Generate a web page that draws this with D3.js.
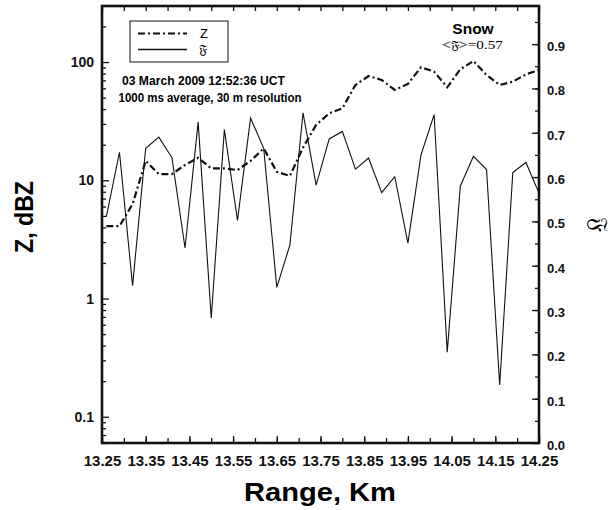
<!DOCTYPE html>
<html>
<head>
<meta charset="UTF-8">
<style>
  body { margin: 0; background: #fff; font-family: "Liberation Sans", Arial, sans-serif; }
  .tick text { font-weight: bold; fill: #111; }
  .frak { font-family: "DejaVu Serif", "DejaVu Sans", serif; }
</style>
</head>
<body>
<svg width="612" height="510"></svg>
<script src="https://d3js.org/d3.v7.min.js"></script>
<script>
// range gates, km (30 m step)
let rangeKm = [13.26, 13.29, 13.32, 13.35, 13.38, 13.41, 13.44, 13.47, 13.50, 13.53,
               13.56, 13.59, 13.62, 13.65, 13.68, 13.71, 13.74, 13.77, 13.80, 13.83,
               13.86, 13.89, 13.92, 13.95, 13.98, 14.01, 14.04, 14.07, 14.10, 14.13,
               14.16, 14.19, 14.22, 14.25];
// reflectivity Z (log axis, left)
let zValues = [4.1, 4.1, 6.3, 14.6, 11.3, 11.3, 13.5, 15.5, 12.6, 12.6,
               12.2, 14.6, 18.6, 11.8, 10.9, 18.9, 29.4, 36.9, 40.6, 64,
               76.2, 70.6, 58.1, 65.3, 90.3, 83, 61.2, 86.9, 102, 77.8,
               64, 68.2, 78.8, 85.7];
// F (linear axis, right)
let fValues = [0.511, 0.656, 0.355, 0.665, 0.690, 0.644, 0.440, 0.724, 0.282, 0.707,
               0.502, 0.733, 0.665, 0.351, 0.447, 0.745, 0.582, 0.686, 0.703, 0.618,
               0.643, 0.565, 0.601, 0.451, 0.650, 0.741, 0.205, 0.580, 0.647, 0.617,
               0.131, 0.610, 0.633, 0.564];

let xTickLabels = [13.25, 13.35, 13.45, 13.55, 13.65, 13.75, 13.85, 13.95, 14.05, 14.15, 14.25];
let zTickLabels = [0.1, 1, 10, 100];
let fTickLabels = [0, 0.1, 0.2, 0.3, 0.4, 0.5, 0.6, 0.7, 0.8, 0.9];

let mLeft = 102, mRight = 539, mTop = 6, mBottom = 443;

let svg = d3.select("svg");

let x = d3.scaleLinear().domain([13.25, 14.25]).range([mLeft, mRight]);
let yZ = d3.scaleLog().domain([0.06, 298]).range([mBottom, mTop]);
let yF = d3.scaleLinear().domain([0, 0.986]).range([mBottom, mTop]);

// minor ticks
let xMinor = [];
for (let i = 0; i <= 20; i++) xMinor.push(13.25 + i * 0.05);
let zMinor = [];
[0.01, 0.1, 1, 10, 100].forEach(dec => {
  for (let m = 2; m <= 9; m++) {
    let v = dec * m;
    if (v >= 0.06 && v <= 298) zMinor.push(v);
  }
});
let fMinor = [];
for (let i = 0; i <= 19; i++) fMinor.push(i * 0.05);

function style(g) {
  g.select(".domain").remove();
  g.selectAll(".tick line").attr("stroke", "#111").attr("stroke-width", 1.3);
}

// bottom axis
svg.append("g").attr("transform", `translate(0,${mBottom})`)
  .call(d3.axisBottom(x).tickValues(xMinor).tickFormat("").tickSize(-5))
  .call(style);
svg.append("g").attr("transform", `translate(0,${mBottom})`)
  .call(d3.axisBottom(x).tickValues(xTickLabels).tickFormat(d3.format(".2f")).tickSize(-7).tickPadding(12))
  .call(style)
  .selectAll("text").style("font-size", "15px");
// top axis
svg.append("g").attr("transform", `translate(0,${mTop})`)
  .call(d3.axisTop(x).tickValues(xMinor).tickFormat("").tickSize(-5))
  .call(style);

// left axis (log)
svg.append("g").attr("transform", `translate(${mLeft},0)`)
  .call(d3.axisLeft(yZ).tickValues(zMinor).tickFormat("").tickSize(-4))
  .call(style);
svg.append("g").attr("transform", `translate(${mLeft},0)`)
  .call(d3.axisLeft(yZ).tickValues(zTickLabels).tickFormat(d => d).tickSize(-7).tickPadding(8))
  .call(style)
  .selectAll("text").style("font-size", "14px");

// right axis
svg.append("g").attr("transform", `translate(${mRight},0)`)
  .call(d3.axisRight(yF).tickValues(fMinor).tickFormat("").tickSize(-4))
  .call(style);
svg.append("g").attr("transform", `translate(${mRight},0)`)
  .call(d3.axisRight(yF).tickValues(fTickLabels).tickFormat(d3.format(".1f")).tickSize(-7).tickPadding(8))
  .call(style)
  .selectAll("text").style("font-size", "13px").attr("dy", "0.5em");

// data lines
svg.append("defs").append("clipPath").attr("id", "plot")
  .append("rect").attr("x", mLeft).attr("y", mTop).attr("width", mRight - mLeft).attr("height", mBottom - mTop);

let fLine = d3.line().x((d, i) => x(rangeKm[i])).y(d => yF(d));
let zLine = d3.line().x((d, i) => x(rangeKm[i])).y(d => yZ(d));

svg.append("path").datum(fValues)
  .attr("clip-path", "url(#plot)")
  .attr("d", fLine).attr("fill", "none").attr("stroke", "#111").attr("stroke-width", 1.1);

svg.append("path").datum(zValues)
  .attr("clip-path", "url(#plot)")
  .attr("d", zLine).attr("fill", "none").attr("stroke", "#111").attr("stroke-width", 2.2)
  .attr("stroke-dasharray", "7,3,2,3");

// frame
svg.append("rect").attr("x", mLeft).attr("y", mTop).attr("width", mRight - mLeft).attr("height", mBottom - mTop)
  .attr("fill", "none").attr("stroke", "#111").attr("stroke-width", 2.6);

// legend
let lg = svg.append("g");
lg.append("rect").attr("x", 130).attr("y", 21).attr("width", 98).attr("height", 41)
  .attr("fill", "#fff").attr("stroke", "#111").attr("stroke-width", 1);
lg.append("line").attr("x1", 138).attr("x2", 187).attr("y1", 33.5).attr("y2", 33.5)
  .attr("stroke", "#111").attr("stroke-width", 2).attr("stroke-dasharray", "7,3,2,3");
lg.append("line").attr("x1", 138).attr("x2", 187).attr("y1", 49.5).attr("y2", 49.5)
  .attr("stroke", "#111").attr("stroke-width", 1.6);
lg.append("text").attr("x", 200).attr("y", 38).text("Z").style("font-size", "13px");
lg.append("text").attr("class", "frak").attr("x", 199).attr("y", 54).text("𝔉").style("font-size", "13px");

// annotations
svg.append("text").attr("x", 122).attr("y", 85).text("03 March 2009 12:52:36 UCT")
  .attr("textLength", 163).attr("lengthAdjust", "spacingAndGlyphs")
  .style("font-size", "13px").style("font-weight", "bold");
svg.append("text").attr("x", 118.5).attr("y", 102).text("1000 ms average, 30 m resolution")
  .attr("textLength", 183).attr("lengthAdjust", "spacingAndGlyphs")
  .style("font-size", "13px").style("font-weight", "bold");

svg.append("text").attr("x", 473).attr("y", 33.5).attr("text-anchor", "middle").text("Snow")
  .style("font-size", "15.5px").style("font-weight", "bold");
let mean = svg.append("text").attr("x", 442).attr("y", 49)
  .attr("textLength", 61).attr("lengthAdjust", "spacingAndGlyphs")
  .style("font-family", "'Liberation Serif', 'DejaVu Serif', serif").style("font-size", "12.5px");
mean.append("tspan").text("<").attr("fill", "#fff").attr("stroke", "#666").attr("stroke-width", 0.6);
mean.append("tspan").attr("class", "frak").text("𝔉").style("font-size", "11px");
mean.append("tspan").text(">").attr("fill", "#fff").attr("stroke", "#666").attr("stroke-width", 0.6);
mean.append("tspan").text("=0.57");

// axis titles
svg.append("text").attr("transform", "translate(33,217) rotate(-90)").attr("text-anchor", "middle")
  .text("Z, dBZ").attr("textLength", 72).attr("lengthAdjust", "spacingAndGlyphs")
  .style("font-size", "26px").style("font-weight", "bold");
svg.append("text").attr("x", 320).attr("y", 501).attr("text-anchor", "middle")
  .text("Range, Km").attr("textLength", 152).attr("lengthAdjust", "spacingAndGlyphs")
  .style("font-size", "26px").style("font-weight", "bold");
svg.append("text").attr("class", "frak").attr("transform", "translate(591,224) rotate(90)")
  .attr("text-anchor", "middle").text("𝔉").style("font-size", "24px");
</script>
</body>
</html>
